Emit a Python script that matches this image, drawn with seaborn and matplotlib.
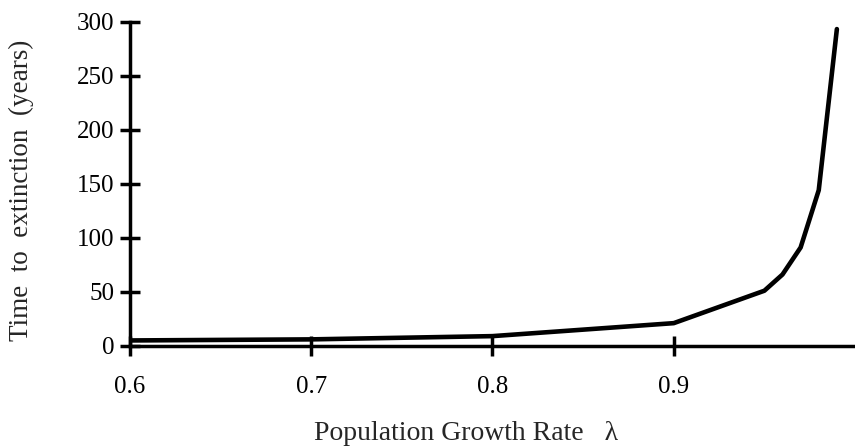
import numpy as np
import pandas as pd
import matplotlib as mpl
from matplotlib import pyplot as plt
import seaborn as sns

# Values
growth_rate = [0.60, 0.65, 0.70, 0.75, 0.80, 0.90, 0.95, 0.96, 0.97, 0.98, 0.99]
extinction_time = [5, 5.5, 6, 7.5, 9, 21, 51, 66, 91, 144, 293]
x_ticks = [0.6, 0.7, 0.8, 0.9]
y_ticks = [0, 50, 100, 150, 200, 250, 300]

sns.set_style('white')
plt.rcParams['font.family'] = ['Liberation Serif', 'DejaVu Serif']

df = pd.DataFrame({'rate': growth_rate, 'time': extinction_time})

fig = plt.figure(figsize=(8.55, 4.48), dpi=100)
ax = fig.add_axes([0.152, 0.228, 0.848, 0.724])

sns.lineplot(data=df, x='rate', y='time', ax=ax, color='black', linewidth=3.3)

ax.set_xlim(0.6, 1.0)
ax.set_ylim(0, 300)
ax.set_xticks(x_ticks)
ax.set_xticklabels([f'{t:.1f}' for t in x_ticks])
ax.set_yticks(y_ticks)

for side in ['top', 'right']:
    ax.spines[side].set_visible(False)
for side in ['left', 'bottom']:
    ax.spines[side].set_linewidth(2.5)
    ax.spines[side].set_color('black')

# ticks cross the axis lines like in the scan
ax.tick_params(bottom=True, left=True, direction='inout', length=14, width=2.5,
               labelsize=18, colors='black')
ax.tick_params(axis='x', pad=15)
ax.tick_params(axis='y', pad=4)

ax.set_xlabel('Population Growth Rate   \u03bb', fontsize=20)
ax.set_ylabel('Time  to  extinction  (years)', fontsize=19.5)
ax.xaxis.set_label_coords(0.464, -0.231)
ax.yaxis.set_label_coords(-0.132, 0.48)

plt.savefig('out.png', dpi=100)
